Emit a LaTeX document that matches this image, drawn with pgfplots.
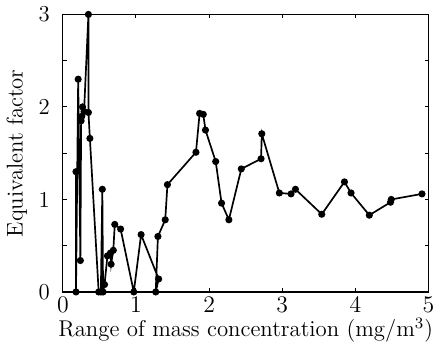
\documentclass[border=0pt]{standalone}
\usepackage{pgfplots}
\pgfplotsset{compat=1.18}
\begin{document}
\begin{tikzpicture}
\begin{axis}[
  width=184.5pt, height=140pt, scale only axis,
  xmin=0, xmax=5, ymin=0, ymax=3,
  xtick={0,1,2,3,4,5},
  ytick={0,0.5,1,1.5,2,2.5,3},
  yticklabels={0,,1,,2,,3},
  tick align=inside,
  major tick length=2pt,
  tick style={black, line width=0.5pt},
  axis line style={line width=0.6pt},
  font=\fontsize{11.5}{13.5}\selectfont,
  xlabel={Range of mass concentration (mg/m$^3$)},
  ylabel={Equivalent factor},
  xlabel style={yshift=4pt},
  ylabel style={yshift=-1pt},
  xticklabel style={yshift=1pt},
  yticklabel style={xshift=-3pt},
]
\addplot[black, line width=0.85pt, mark=*, mark size=1.35pt] coordinates {
(0.18,1.30) (0.18,0) (0.21,2.30) (0.24,0.34) (0.25,1.85) (0.26,1.90) (0.27,2.00) (0.29,1.95)
(0.35,3.00) (0.35,1.94) (0.37,1.66) (0.49,0) (0.52,0) (0.54,1.11) (0.55,0) (0.57,0.08)
(0.61,0.39) (0.65,0.42) (0.66,0.30) (0.69,0.45) (0.71,0.73) (0.79,0.68) (0.97,0)
(1.07,0.62) (1.31,0.14) (1.27,0) (1.30,0.60) (1.40,0.78) (1.43,1.16) (1.82,1.51)
(1.87,1.93) (1.92,1.92) (1.95,1.75) (2.09,1.41) (2.17,0.96) (2.27,0.78) (2.44,1.33)
(2.71,1.44) (2.72,1.71) (2.96,1.07) (3.12,1.06) (3.18,1.11) (3.54,0.84) (3.85,1.19)
(3.94,1.07) (4.19,0.83) (4.48,0.97) (4.49,1.00) (4.91,1.06)
};
\end{axis}
\end{tikzpicture}
\end{document}
